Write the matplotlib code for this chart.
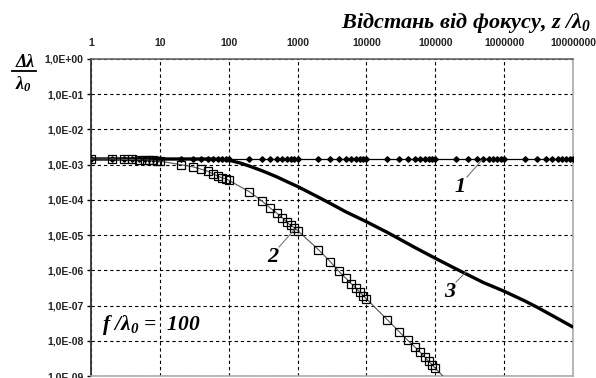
import numpy as np
import matplotlib
matplotlib.use("Agg")
import matplotlib.pyplot as plt
from matplotlib.ticker import FixedLocator, FuncFormatter, NullLocator

plt.rcParams['mathtext.fontset'] = 'custom'
plt.rcParams['mathtext.rm'] = 'Liberation Serif:italic:bold'
plt.rcParams['mathtext.it'] = 'Liberation Serif:italic:bold'
plt.rcParams['mathtext.bf'] = 'Liberation Serif:italic:bold'

# === DATOS ===
# Curva 1: constante (puntos en n*10^k)
z1 = [1, 2, 3, 4, 5, 6, 7, 8, 9,
      10, 20, 30, 40, 50, 60, 70, 80, 90,
      100, 200, 300, 400, 500, 600, 700, 800, 900,
      1e3, 2e3, 3e3, 4e3, 5e3, 6e3, 7e3, 8e3, 9e3,
      1e4, 2e4, 3e4, 4e4, 5e4, 6e4, 7e4, 8e4, 9e4,
      1e5, 2e5, 3e5, 4e5, 5e5, 6e5, 7e5, 8e5, 9e5,
      1e6, 2e6, 3e6, 4e6, 5e6, 6e6, 7e6, 8e6, 9e6,
      1e7]
dl1 = [1.45e-3] * len(z1)

# Curva 2: cuadrados
z2 = [1, 2, 3, 4, 5, 6, 7, 8, 9,
      10, 20, 30, 40, 50, 60, 70, 80, 90,
      100, 200, 300, 400, 500, 600, 700, 800, 900,
      1e3, 2e3, 3e3, 4e3, 5e3, 6e3, 7e3, 8e3, 9e3,
      1e4, 2e4, 3e4, 4e4, 5e4, 6e4, 7e4, 8e4, 9e4,
      1e5, 2e5]
dl2 = [1.45e-3, 1.45e-3, 1.41e-3, 1.41e-3, 1.38e-3, 1.38e-3, 1.35e-3, 1.32e-3, 1.29e-3,
       1.26e-3, 1.0e-3, 8.7e-4, 7.4e-4, 6.5e-4, 5.4e-4, 4.7e-4, 4.2e-4, 4.0e-4,
       3.6e-4, 1.7e-4, 9.5e-5, 5.9e-5, 4.2e-5, 3.1e-5, 2.3e-5, 1.9e-5, 1.6e-5,
       1.35e-5, 3.9e-6, 1.74e-6, 9.3e-7, 6.0e-7, 4.2e-7, 3.2e-7, 2.4e-7, 1.9e-7,
       1.55e-7, 4.0e-8, 1.8e-8, 1.02e-8, 6.8e-9, 4.8e-9, 3.5e-9, 2.6e-9, 2.1e-9,
       1.66e-9, 4.2e-10]

# Curva 3: linea gruesa
z3 = [1, 10, 50, 80, 100, 120, 150, 200, 300, 400, 500, 700,
      1e3, 2e3, 3e3, 5e3, 1e4, 2e4, 3e4, 5e4, 1e5, 2e5, 3e5, 5e5,
      1e6, 2e6, 3e6, 5e6, 1e7]
dl3 = [1.45e-3, 1.45e-3, 1.45e-3, 1.41e-3, 1.35e-3, 1.23e-3, 1.10e-3, 9.1e-4, 6.8e-4,
       5.4e-4, 4.5e-4, 3.3e-4,
       2.4e-4, 1.2e-4, 7.9e-5, 4.6e-5, 2.4e-5, 1.2e-5, 7.8e-6, 4.5e-6, 2.2e-6,
       1.1e-6, 7.4e-7, 4.5e-7,
       2.55e-7, 1.35e-7, 9.0e-8, 5.2e-8, 2.45e-8]

x_ticks = [1, 10, 100, 1000, 10000, 100000, 1000000, 10000000]
y_ticks = [1e0, 1e-1, 1e-2, 1e-3, 1e-4, 1e-5, 1e-6, 1e-7, 1e-8, 1e-9]

W, H = 596, 378

def fx(px):
    return px / W

def fy(py):
    return 1 - py / H

fig = plt.figure(figsize=(W / 100, H / 100), dpi=100)
ax = fig.add_axes([fx(91), fy(376), fx(573) - fx(91), fy(59) - fy(376)])

ax.set_xscale('log')
ax.set_yscale('log')
ax.set_xlim(1, 1e7)
ax.set_ylim(1e-9, 1e0)

ax.plot(z1, dl1, color='black', lw=0.9, marker='D', ms=2.8, mfc='black', mec='black', zorder=3)
ax.plot(z3, dl3, color='black', lw=2.4, solid_joinstyle='round', solid_capstyle='round', zorder=4)
ax.plot(z2, dl2, color='#555555', lw=0.8, marker='s', ms=5.2, mfc='none', mec='black',
        mew=0.9, zorder=5)

# Ejes y grilla
ax.xaxis.tick_top()
ax.xaxis.set_major_locator(FixedLocator(x_ticks))
ax.xaxis.set_minor_locator(NullLocator())
ax.yaxis.set_major_locator(FixedLocator(y_ticks))
ax.yaxis.set_minor_locator(NullLocator())
ax.xaxis.set_major_formatter(FuncFormatter(lambda v, p: f"{int(round(v))}"))
ax.yaxis.set_major_formatter(FuncFormatter(
    lambda v, p: "1,0E" + f"{int(round(np.log10(v))):+03d}"))
ax.tick_params(axis='x', length=0, pad=8, labelsize=7.5)
ax.tick_params(axis='y', length=3, width=1, pad=2.5, labelsize=7.5, direction='out')
for lbl in ax.get_xticklabels() + ax.get_yticklabels():
    lbl.set_fontfamily('Liberation Sans')
    lbl.set_fontweight('bold')
    lbl.set_color('#222222')

ax.grid(True, which='major', color='black', lw=0.8, linestyle=(0, (3, 2.6)))
ax.spines['left'].set_color('#333333')
ax.spines['left'].set_linewidth(1.3)
ax.spines['top'].set_color('#666666')
ax.spines['top'].set_linewidth(1.2)
ax.spines['right'].set_color('#aaaaaa')
ax.spines['right'].set_linewidth(1.2)
ax.spines['bottom'].set_color('#aaaaaa')
ax.spines['bottom'].set_linewidth(1.2)

serif = dict(family='Liberation Serif', style='italic', weight='bold', color='black')

# Titulo del eje x
fig.text(fx(591), fy(28), "Відстань від фокусу, z /λ$_0$", ha='right', va='baseline',
         fontsize=16, **serif)

# Etiqueta del eje y (fraccion)
fig.text(fx(25), fy(67), "Δλ", ha='center', va='baseline', fontsize=13, **serif)
fig.add_artist(plt.Line2D([fx(12), fx(36)], [fy(71), fy(71)], color='black', lw=1.3))
fig.text(fx(23), fy(89), "λ$_0$", ha='center', va='baseline', fontsize=13, **serif)

# Texto f/λ0
fig.text(fx(102), fy(330), "f /λ$_0$ =  100", ha='left', va='baseline', fontsize=15.5, **serif)

# Etiquetas de curvas con lineas guia
def etiqueta(texto, px_txt, py_txt, px_pt, py_pt):
    fig.text(fx(px_txt), fy(py_txt), texto, ha='right', va='top', fontsize=16, **serif)
    fig.add_artist(plt.Line2D([fx(px_txt + 1), fx(px_pt)], [fy(py_txt), fy(py_pt)],
                              color='#666666', lw=0.7))

etiqueta("1", 466, 177, 482, 160)
etiqueta("2", 278, 247, 295, 229)
etiqueta("3", 455, 282, 466, 272)

fig.savefig("out.png", dpi=100)
